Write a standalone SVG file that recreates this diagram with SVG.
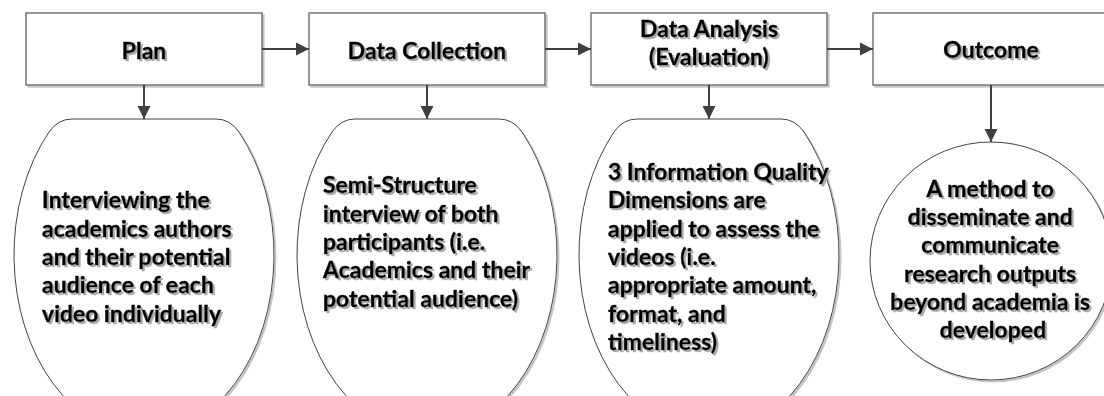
<svg xmlns="http://www.w3.org/2000/svg" width="1104" height="396" viewBox="0 0 1104 396">
  <defs>
    <filter id="shade" x="-5%" y="-5%" width="115%" height="115%">
      <feDropShadow dx="2" dy="2" stdDeviation="0.6" flood-color="#c4c4c4" flood-opacity="1"/>
    </filter>
    <filter id="tshade" x="-5%" y="-20%" width="115%" height="150%">
      <feDropShadow dx="2" dy="2" stdDeviation="0.7" flood-color="#aaaaaa" flood-opacity="1"/>
    </filter>
    <marker id="head" markerWidth="14" markerHeight="14" refX="13" refY="7" orient="auto" markerUnits="userSpaceOnUse">
      <path d="M0,0.5 L13,7 L0,13.5 Z" fill="#404040"/>
    </marker>
  </defs>
  <style>
    .step { fill: #ffffff; stroke: #606060; stroke-width: 1.3; filter: url(#shade); }
    .bubble { fill: #ffffff; stroke: #404040; stroke-width: 1; filter: url(#shade); }
    .title, .body { font-family: Lato, "Open Sans", sans-serif; font-weight: 700; font-size: 23px; fill: #000000; stroke: #000000; stroke-width: 0.45; filter: url(#tshade); }
    .title, .body-c { text-anchor: middle; }
    .link { fill: none; stroke: #404040; stroke-width: 2; marker-end: url(#head); }
  </style>

  <!-- process steps -->
  <g id="plan">
    <rect class="step" x="26" y="13" width="236" height="72"/>
    <text class="title" x="144" y="59">Plan</text>
  </g>
  <g id="data-collection">
    <rect class="step" x="309" y="13" width="236" height="72"/>
    <text class="title" x="427" y="59">Data Collection</text>
  </g>
  <g id="data-analysis">
    <rect class="step" x="591" y="13" width="236" height="72"/>
    <text class="title" x="709" y="37">Data Analysis</text>
    <text class="title" x="709" y="65">(Evaluation)</text>
  </g>
  <g id="outcome">
    <rect class="step" x="873" y="13" width="236" height="72"/>
    <text class="title" x="991" y="58">Outcome</text>
  </g>

  <!-- detail bubbles -->
  <g id="plan-detail">
    <path class="bubble" d="M72,119 H216 Q230,119 239,132 A130 180 0 1 1 49,132 Q58,119 72,119 Z"/>
    <text class="body">
      <tspan x="42" y="208">Interviewing the</tspan>
      <tspan x="42" y="237">academics authors</tspan>
      <tspan x="42" y="265">and their potential</tspan>
      <tspan x="42" y="293">audience of each</tspan>
      <tspan x="42" y="322">video individually</tspan>
    </text>
  </g>
  <g id="collection-detail">
    <path class="bubble" d="M355,119 H499 Q513,119 522,132 A130 180 0 1 1 332,132 Q341,119 355,119 Z"/>
    <text class="body">
      <tspan x="323" y="193">Semi-Structure</tspan>
      <tspan x="323" y="222">interview of both</tspan>
      <tspan x="323" y="250">participants (i.e.</tspan>
      <tspan x="323" y="278">Academics and their</tspan>
      <tspan x="323" y="307">potential audience)</tspan>
    </text>
  </g>
  <g id="analysis-detail">
    <path class="bubble" d="M637,119 H781 Q795,119 804,132 A130 180 0 1 1 614,132 Q623,119 637,119 Z"/>
    <text class="body">
      <tspan x="608" y="180">3 Information Quality</tspan>
      <tspan x="608" y="208">Dimensions are</tspan>
      <tspan x="608" y="237">applied to assess the</tspan>
      <tspan x="608" y="265">videos (i.e.</tspan>
      <tspan x="608" y="293">appropriate amount,</tspan>
      <tspan x="608" y="322">format, and</tspan>
      <tspan x="608" y="350">timeliness)</tspan>
    </text>
  </g>
  <g id="outcome-detail">
    <ellipse class="bubble" cx="991" cy="261" rx="121" ry="119"/>
    <text class="body body-c">
      <tspan x="993" y="197">A method to</tspan>
      <tspan x="993" y="225">disseminate and</tspan>
      <tspan x="993" y="253">communicate</tspan>
      <tspan x="993" y="282">research outputs</tspan>
      <tspan x="993" y="310">beyond academia is</tspan>
      <tspan x="993" y="338">developed</tspan>
    </text>
  </g>

  <!-- connectors -->
  <g id="connectors">
    <line class="link" x1="262" y1="49" x2="309" y2="49"/>
    <line class="link" x1="545" y1="49" x2="591" y2="49"/>
    <line class="link" x1="827" y1="49" x2="873" y2="49"/>
    <line class="link" x1="144" y1="85" x2="144" y2="119"/>
    <line class="link" x1="427" y1="85" x2="427" y2="119"/>
    <line class="link" x1="709" y1="85" x2="709" y2="119"/>
    <line class="link" x1="991" y1="85" x2="991" y2="142"/>
  </g>
</svg>
